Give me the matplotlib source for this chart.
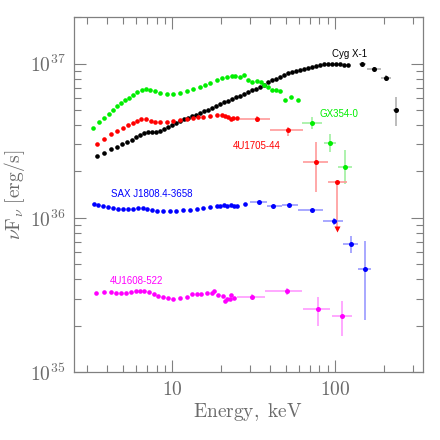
import numpy as np
import matplotlib
matplotlib.use('Agg')
from matplotlib import pyplot as plt
from matplotlib import ticker

plt.rcParams['mathtext.fontset'] = 'cm'
plt.rcParams['font.family'] = ['Liberation Sans', 'DejaVu Sans']

# fluxes below are in units of 1e36 erg/s, energies in keV
unit = 1e36

# Cyg X-1 (black)
cyg_e = [3.45, 3.81, 4.19, 4.56, 4.94, 5.28, 5.64, 5.99, 6.34, 6.70, 7.10, 7.51, 7.94, 8.41,
         8.89, 9.41, 9.96, 10.5, 11.1, 11.8, 12.5, 13.2, 14.0, 14.8, 15.7, 16.6, 17.5, 18.5,
         19.6, 20.8, 22.0, 23.3, 24.6, 26.0, 27.5, 29.2, 30.9, 32.7, 34.5, 36.6, 38.7, 40.9,
         43.3, 45.8, 48.5, 51.3, 54.3, 57.4, 60.7, 64.2, 68.0, 71.9, 76.1, 80.5, 85.1, 90.1,
         95.3, 100.8, 107, 113, 119]
cyg_f = [2.52, 2.63, 2.78, 2.90, 3.00, 3.11, 3.19, 3.34, 3.45, 3.54, 3.58, 3.58, 3.59, 3.65,
         3.75, 3.87, 3.99, 4.11, 4.24, 4.37, 4.46, 4.56, 4.67, 4.77, 4.92, 5.03, 5.14, 5.30,
         5.45, 5.62, 5.75, 5.88, 6.05, 6.19, 6.33, 6.52, 6.72, 6.87, 7.08, 7.29, 7.57, 7.80,
         7.97, 8.15, 8.40, 8.65, 8.79, 8.92, 9.05, 9.19, 9.39, 9.53, 9.67, 9.82, 9.90, 10.0,
         9.97, 10.0, 9.90, 9.75, 9.82]
cyg_hx = [147, 173, 205, 235]
cyg_hf = [9.94, 9.28, 8.12, 5.04]
cyg_hx_lo = [139, 157, 191, 225]
cyg_hx_hi = [155, 190, 220, 245]
cyg_hf_lo = [9.75, 9.05, 7.77, 3.92]
cyg_hf_hi = [10.1, 9.5, 8.49, 6.09]

# GX354-0 (green)
gx_e = [3.28, 3.55, 3.81, 4.07, 4.33, 4.60, 4.86, 5.15, 5.45, 5.76, 6.10, 6.49, 6.90, 7.30,
        7.83, 8.41, 9.24, 10.1, 11.1, 12.3, 13.4, 14.8, 15.9, 17.0, 18.7, 20.1, 21.6, 23.1,
        24.2, 26.0, 27.5, 29.3, 30.7, 32.9, 34.8, 36.5, 38.8, 40.9, 43.3, 45.8, 49.1, 53.5, 58.8]
gx_f = [3.85, 4.17, 4.47, 4.75, 5.04, 5.29, 5.53, 5.79, 6.03, 6.26, 6.52, 6.75, 6.85, 6.79,
        6.62, 6.49, 6.40, 6.40, 6.49, 6.65, 6.85, 7.02, 7.24, 7.49, 7.88, 8.07, 8.19, 8.28,
        8.28, 8.19, 8.40, 7.80, 7.60, 7.68, 7.57, 7.27, 7.02, 6.72, 6.72, 6.62, 5.85, 6.05, 5.81]
gx_hx = [71.7, 92.8, 114.2]
gx_hf = [4.13, 3.06, 2.13]
gx_hx_lo = [62.2, 85.3, 103.4]
gx_hx_hi = [82.4, 101, 126]
gx_hf_lo = [3.78, 2.68, 1.65]
gx_hf_hi = [4.51, 3.50, 2.75]

# 4U1705-44 (red)
u1705_e = [3.45, 3.81, 4.19, 4.58, 4.95, 5.33, 5.72, 6.07, 6.47, 6.90, 7.35, 7.83, 8.41, 9.24,
           10.1, 11.1, 12.3, 13.4, 14.4, 15.5, 17.0, 18.7, 20.1, 21.1, 22.1, 22.8, 23.7, 24.8]
u1705_f = [3.00, 3.26, 3.50, 3.67, 3.83, 3.99, 4.14, 4.26, 4.38, 4.35, 4.23, 4.19, 4.17, 4.18,
           4.23, 4.30, 4.38, 4.46, 4.51, 4.51, 4.58, 4.66, 4.63, 4.58, 4.51, 4.36, 4.41, 4.47]
u1705_hx = [32.9, 51.6, 76.7, 102.9]
u1705_hf = [4.40, 3.70, 2.31, 1.70]
u1705_hx_lo = [26.0, 39.7, 63.6, 89.8]
u1705_hx_hi = [39.7, 63.6, 90.6, 117.5]
u1705_hf_lo = [4.21, 3.38, 1.47, 0.85]
u1705_hf_hi = [4.59, 3.89, 3.11, 1.70]
u1705_limit = 0.85

# SAX J1808.4-3658 (blue)
sax_e = [3.31, 3.52, 3.77, 4.05, 4.35, 4.66, 5.00, 5.37, 5.76, 6.18, 6.58, 6.96, 7.47, 8.02,
         8.81, 9.68, 10.6, 11.7, 12.8, 14.1, 15.5, 17.0, 18.7, 19.6, 20.8, 21.8, 22.8, 23.9,
         25.1, 27.9]
sax_f = [1.24, 1.21, 1.19, 1.18, 1.16, 1.15, 1.14, 1.14, 1.14, 1.16, 1.16, 1.14, 1.12, 1.11,
         1.107, 1.107, 1.107, 1.118, 1.128, 1.14, 1.16, 1.18, 1.197, 1.197, 1.21, 1.19, 1.21,
         1.19, 1.19, 1.24]
sax_hx = [34.2, 41.7, 52.2, 71.7, 97.8, 124.9, 152]
sax_hf = [1.27, 1.197, 1.21, 1.12, 0.953, 0.674, 0.464]
sax_hx_lo = [30.0, 37.9, 46.9, 59.3, 84.4, 112, 138.4]
sax_hx_hi = [37.9, 46.9, 59.3, 84.4, 112, 138.4, 165.6]
sax_hf_lo = [1.25, 1.18, 1.19, 1.10, 0.898, 0.592, 0.218]
sax_hf_hi = [1.29, 1.215, 1.23, 1.14, 1.0, 0.762, 0.708]

# 4U1608-522 (magenta)
u1608_e = [3.42, 3.80, 4.18, 4.51, 4.85, 5.22, 5.60, 6.01, 6.38, 6.75, 7.19, 7.67, 8.17, 8.77,
           9.41, 10.1, 11.1, 12.3, 13.2, 14.1, 15.1, 16.3, 17.5, 18.0, 19.1, 20.6, 21.1, 21.8,
           22.6, 22.8, 23.9]
u1608_f = [0.326, 0.329, 0.329, 0.326, 0.325, 0.326, 0.330, 0.334, 0.338, 0.337, 0.330, 0.319,
           0.312, 0.308, 0.303, 0.300, 0.304, 0.307, 0.320, 0.319, 0.320, 0.324, 0.324, 0.336,
           0.316, 0.311, 0.291, 0.298, 0.298, 0.316, 0.301]
u1608_hx = [31.0, 50.3, 78.7, 110.4]
u1608_hf = [0.309, 0.336, 0.256, 0.231]
u1608_hx_lo = [24.8, 37.1, 63.6, 95.0]
u1608_hx_hi = [37.1, 62.2, 92.8, 126]
u1608_hf_lo = [0.297, 0.316, 0.199, 0.172]
u1608_hf_hi = [0.322, 0.353, 0.306, 0.289]

names = ['Cyg X-1', 'GX354-0', '4U1705-44', 'SAX J1808.4-3658', '4U1608-522']
name_x = [123, 105.4, 33.0, 7.5, 6.07]
name_y = [11.6, 4.75, 2.93, 1.43, 0.39]

colors = ['black', '#00ee00', '#ff0000', '#0000ff', '#ff00ff']
err_colors = ['#b0b0b0', '#a0f0a0', '#ff9a9a', '#9a9aff', '#ff9aff']

dense = [(cyg_e, cyg_f), (gx_e, gx_f), (u1705_e, u1705_f), (sax_e, sax_f), (u1608_e, u1608_f)]
sparse = [(cyg_hx, cyg_hf, cyg_hx_lo, cyg_hx_hi, cyg_hf_lo, cyg_hf_hi),
          (gx_hx, gx_hf, gx_hx_lo, gx_hx_hi, gx_hf_lo, gx_hf_hi),
          (u1705_hx, u1705_hf, u1705_hx_lo, u1705_hx_hi, u1705_hf_lo, u1705_hf_hi),
          (sax_hx, sax_hf, sax_hx_lo, sax_hx_hi, sax_hf_lo, sax_hf_hi),
          (u1608_hx, u1608_hf, u1608_hx_lo, u1608_hx_hi, u1608_hf_lo, u1608_hf_hi)]

fig = plt.figure(figsize=(4.4, 4.4), dpi=100)
ax = fig.add_axes([0.168, 0.154, 0.793, 0.807])
ax.set_xscale('log')
ax.set_yscale('log')

for i in range(5):
    e, f = dense[i]
    # faint short bars under the dense points, like the small error crosses
    ax.errorbar(e, np.array(f) * unit, xerr=np.array(e) * 0.025, fmt='none',
                ecolor=err_colors[i], elinewidth=1.0, capsize=0, zorder=2)
    ax.plot(e, np.array(f) * unit, 'o', color=colors[i], ms=3.3, mec='none', zorder=3)

    x, y, xlo, xhi, ylo, yhi = [np.array(v, dtype=float) for v in sparse[i]]
    ax.errorbar(x, y * unit, xerr=[x - xlo, xhi - x], yerr=[(y - ylo) * unit, (yhi - y) * unit],
                fmt='none', ecolor=err_colors[i], elinewidth=1.2, capsize=0, zorder=2)
    ax.plot(x, y * unit, 'o', color=colors[i], ms=3.6, mec='none', zorder=3)

    ax.text(name_x[i], name_y[i] * unit, names[i], color=colors[i], fontsize=7,
            ha='center', va='center')

# upper limit arrow for 4U1705-44
ax.plot([u1705_hx[-1]], [u1705_limit * unit], 'v', color='red', ms=3.8, mec='none', zorder=3)

ax.set_xlim(2.49, 345)
ax.set_ylim(1e35, 2e37)

grey = '#808080'
for s in ax.spines.values():
    s.set_color(grey)
    s.set_linewidth(0.9)

ax.tick_params(which='both', direction='in', top=True, right=True, colors=grey,
               labelcolor='#6a6a6a', width=0.8)
ax.tick_params(which='major', length=8.5, labelsize=14, pad=6)
ax.tick_params(which='minor', length=5)

ax.xaxis.set_major_formatter(ticker.FuncFormatter(lambda v, p: r'$%d$' % round(v)))
ax.yaxis.set_major_formatter(ticker.FuncFormatter(lambda v, p: r'$10^{%d}$' % round(np.log10(v))))
ax.xaxis.set_minor_formatter(ticker.NullFormatter())
ax.yaxis.set_minor_formatter(ticker.NullFormatter())

ax.set_xlabel(r'$\mathrm{Energy,\ keV}$', fontsize=14, color='#6a6a6a', labelpad=2)
ax.set_ylabel(r'$\nu\mathrm{F}_\nu\ [\mathrm{erg/s}]$', fontsize=14, color='#6a6a6a', labelpad=2)

plt.savefig('out.png', dpi=100)
